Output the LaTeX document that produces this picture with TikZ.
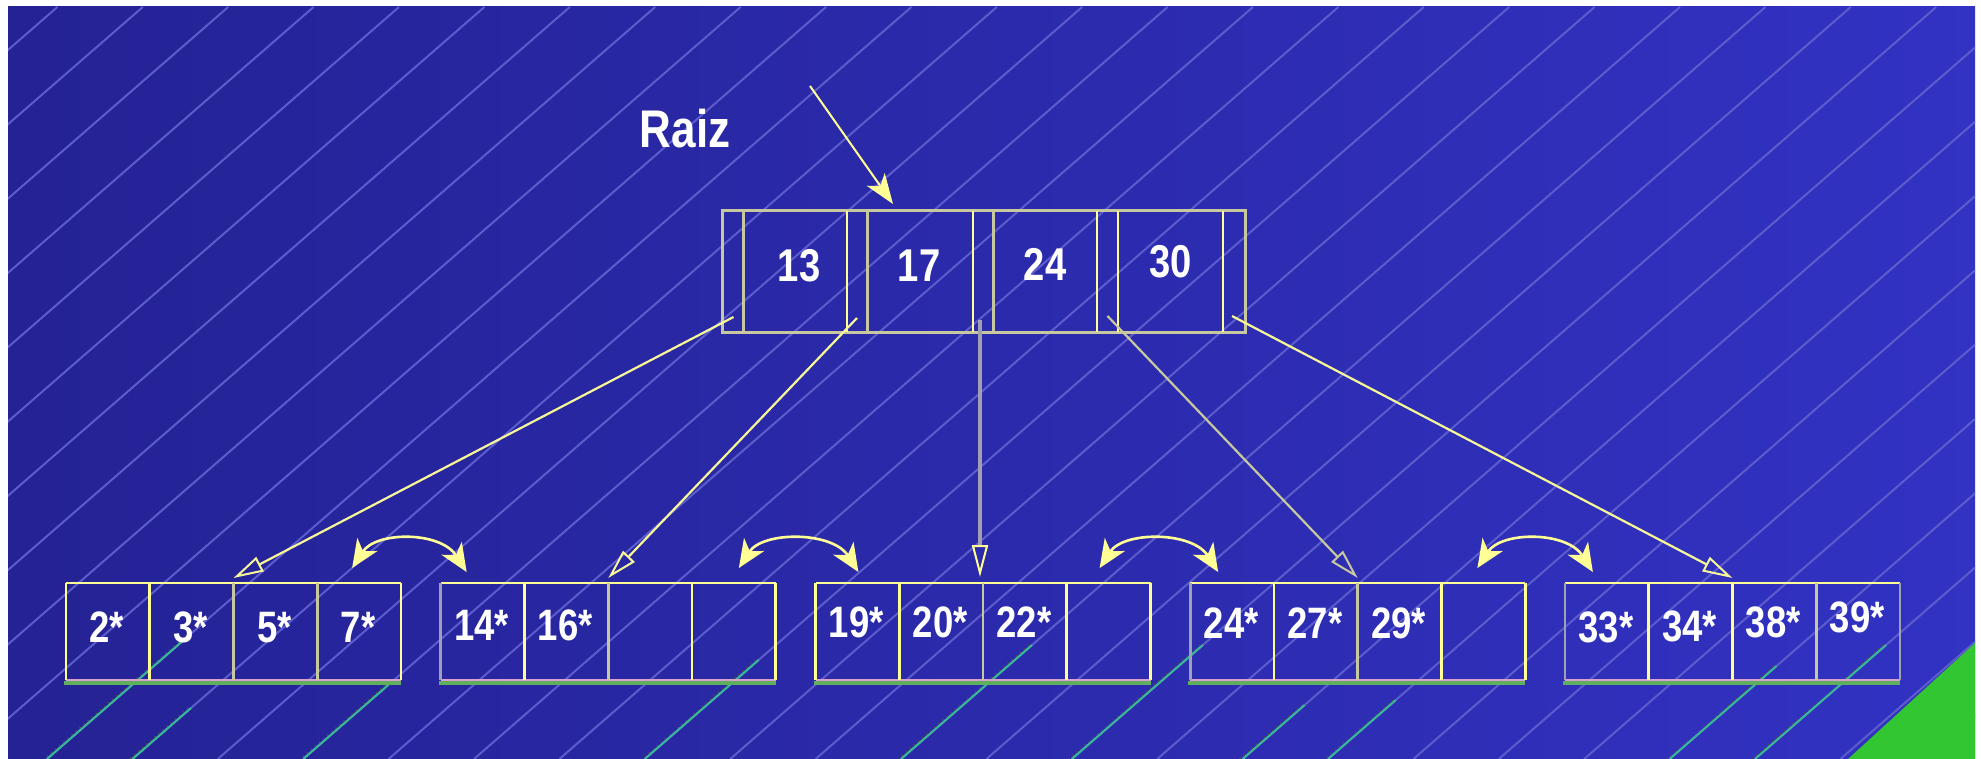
\documentclass[tikz,border=0pt]{standalone}
\usepackage{fontspec}
\newfontfamily\keyfont[FakeStretch=0.83]{Liberation Sans}
\usetikzlibrary{arrows.meta,calc}
\definecolor{bgL}{RGB}{36,34,148}
\definecolor{bgR}{RGB}{50,50,195}
\definecolor{hatch}{RGB}{92,92,205}
\definecolor{ylw}{RGB}{255,255,150}
\definecolor{beige}{RGB}{200,200,160}
\definecolor{greyarrow}{RGB}{160,160,180}
\definecolor{pinkline}{RGB}{215,160,205}
\definecolor{greenline}{RGB}{95,175,95}
\definecolor{tealline}{RGB}{55,185,150}
\definecolor{grass}{RGB}{50,198,50}
\newcommand\mkcell[5]{\node[inner sep=0pt,outer sep=0pt,minimum width={(#3-#2)*0.5pt},minimum height={(#5-#4)*0.5pt}] (#1) at ({(#2+#3)/2},{(#4+#5)/2}) {};}
\tikzset{
  keytext/.style={text=white,inner sep=0pt,anchor=base,font=\keyfont\bfseries\fontsize{22}{22}\selectfont},
  roottext/.style={text=white,inner sep=0pt,anchor=base,font=\keyfont\bfseries\fontsize{23}{23}\selectfont},
  rootedge/.style={draw=beige,line width=1.5pt},
  rootedgeY/.style={draw=ylw,line width=1.2pt},
  leafY/.style={draw=ylw,line width=1.3pt},
  leafB/.style={draw=beige,line width=1.3pt},
  leafG/.style={draw=greyarrow,line width=1.3pt},
  ptr/.style={draw=ylw!85!beige,line width=1.1pt,-{Triangle[open,length=15pt,width=8pt,line width=1pt]}},
  ptrgrey/.style={draw=beige,line width=1.1pt,-{Triangle[open,length=15pt,width=8pt,line width=1pt]}},
  sibling/.style={draw=ylw,line width=1.3pt,{Stealth[length=14pt,width=12pt,inset=4pt]}-{Stealth[length=14pt,width=12pt,inset=4pt]}},
  rootptr/.style={draw=ylw,line width=1pt,-{Stealth[length=15pt,width=11pt,inset=4pt]}},
  teal/.style={draw=tealline,line width=1pt}
}
\begin{document}
\begin{tikzpicture}[x=0.5pt,y=-0.5pt]
\useasboundingbox (0,0) rectangle (1981,759);
\fill[white] (0,0) rectangle (1981,759);
\shade[left color=bgL,right color=bgR] (8,7) rectangle (1975,759);
\begin{scope}
  \clip (8,7) rectangle (1975,759);
  \foreach \k in {-11,...,23} {
    \draw[hatch,line width=1pt] ({47+85.4*\k},759) -- ++(864.4,-752);
  }
  % coloured stretches of the hatch below the leaves
  \foreach \k/\ys in {0/635,1/708,3/685,7/660,10/645,12/645,14/705,15/700,19/666,20/645} {
    \draw[black!70,line width=0.7pt,dotted] ({47+85.4*\k+(759-\ys)/0.87-3},\ys) -- ({47+85.4*\k-3},759);
    \draw[teal] ({47+85.4*\k+(759-\ys)/0.87},\ys) -- ({47+85.4*\k},759);
  }
  \fill[grass] (1848,759) -- (1975,759) -- (1975,643) -- cycle;
\end{scope}

% ---------- root node ----------
\mkcell{rp1}{722}{743}{211}{332}
\mkcell{rk1}{743}{847}{211}{332}
\mkcell{rp2}{847}{867}{211}{332}
\mkcell{rk2}{867}{973}{211}{332}
\mkcell{rp3}{973}{993}{211}{332}
\mkcell{rk3}{993}{1097}{211}{332}
\mkcell{rp4}{1097}{1118}{211}{332}
\mkcell{rk4}{1118}{1223}{211}{332}
\mkcell{rp5}{1223}{1245}{211}{332}
\draw[rootedge] (rp1.north west) rectangle (rp5.south east);
\draw[rootedge] (rk1.north west) -- (rk1.south west);
\draw[rootedge] (rk2.north west) -- (rk2.south west);
\draw[rootedge] (rk3.north west) -- (rk3.south west);
\draw[rootedgeY] (rp2.north west) -- (rp2.south west);
\draw[rootedgeY] (rp3.north west) -- (rp3.south west);
\draw[rootedgeY] (rp4.north west) -- (rp4.south west);
\draw[rootedgeY] (rk4.north west) -- (rk4.south west);
\draw[rootedgeY] (rp5.north west) -- (rp5.south west);
\node[roottext] (t13) at ($(rk1.south)+(4,-50)$) {13};
\node[roottext] (t17) at ($(rk2.south)+(-1,-50)$) {17};
\node[roottext] (t24) at ($(rk3.south)+(0,-51)$) {24};
\node[roottext] (t30) at ($(rk4.south)+(0,-54)$) {30};

% ---------- leaves ----------
\foreach \i in {1,...,5} {
  \foreach \j in {1,...,4} {
    \pgfmathsetmacro\xa{66+374.75*(\i-1)+83.75*(\j-1)}
    \pgfmathsetmacro\xb{\xa+83.75}
    \mkcell{l\i-\j}{\xa}{\xb}{583}{680}
  }
}
\foreach \i in {1,...,5} {
  \draw[leafY] (l\i-1.north west) -- (l\i-4.north east);
  \draw[draw=greenline,line width=1.6pt] ($(l\i-1.south west)+(-2,3)$) -- ($(l\i-4.south east)+(0,3)$);
  \draw[draw=pinkline,line width=1.1pt] (l\i-1.south west) -- (l\i-4.south east);
}
% vertical separators
\foreach \n/\s in {l1-1.north west/leafY,l1-2.north west/leafY,l1-3.north west/leafB,l1-4.north west/leafB,l1-4.north east/leafY,
                  l2-1.north west/leafG,l2-2.north west/leafY,l2-3.north west/leafB,l2-4.north west/leafY,l2-4.north east/leafY,
                  l3-1.north west/leafY,l3-2.north west/leafY,l3-3.north west/leafB,l3-4.north west/leafY,l3-4.north east/leafY,
                  l4-1.north west/leafG,l4-2.north west/leafY,l4-3.north west/leafB,l4-4.north west/leafY,l4-4.north east/leafY,
                  l5-1.north west/leafG,l5-2.north west/leafY,l5-3.north west/leafY,l5-4.north west/leafB,l5-4.north east/leafG} {
  \draw[\s] (\n) -- ++(0,97);
}
% leaf keys
\foreach \i/\j/\t/\dy in {1/1/2*/38,1/2/3*/38,1/3/5*/38,1/4/7*/38,
                          2/1/14*/40,2/2/16*/40,
                          3/1/19*/43,3/2/20*/43,3/3/22*/43,
                          4/1/24*/42,4/2/27*/42,4/3/29*/42,
                          5/1/33*/38,5/2/34*/39,5/3/38*/43,5/4/39*/48} {
  \node[keytext] at ($(l\i-\j.south)+(-1,-\dy)$) {\t};
}

% ---------- Raiz label and pointer ----------
\node[text=white,inner sep=0pt,anchor=base,font=\keyfont\bfseries\fontsize{26.5}{26.5}\selectfont] (raiz) at (685,148) {Raiz};
\coordinate (rootin) at (810,86);
\draw[rootptr] (rootin) -- ($(rk2.north west)+(26,-7)$);

% ---------- child pointers ----------
\draw[ptr] ($(rp1.south)+(1,-15)$) -- ($(l1-2.north east)+(0,-5)$);
\draw[ptr] ($(rp2.south)+(0,-14)$) -- ($(l2-2.north east)+(0,-5)$);
\draw[draw=greyarrow,line width=2pt,-{Triangle[open,length=16pt,width=8pt,line width=1pt,color=ylw]}] ($(rp3.south)+(-3,-12)$) -- ($(l3-2.north east)+(-3,-6)$);
\draw[ptrgrey] ($(rp4.south)+(0,-16)$) -- ($(l4-2.north east)+(0,-5)$);
\draw[ptr] ($(rp5.south)+(-2,-16)$) -- ($(l5-2.north east)+(0,-5)$);

% ---------- sibling links ----------
\coordinate (s1a) at ($(l1-4.north)+(-7,-15)$);
\coordinate (s1b) at ($(l2-1.north)+(-16,-11)$);
\coordinate (s2a) at ($(l2-4.north)+(5,-15)$);
\coordinate (s2b) at ($(l3-1.north)+(1,-11)$);
\coordinate (s3a) at ($(l3-4.north)+(-9,-15)$);
\coordinate (s3b) at ($(l4-1.north)+(-14,-11)$);
\coordinate (s4a) at ($(l4-4.north)+(-6,-15)$);
\coordinate (s4b) at ($(l5-1.north)+(-14,-11)$);
\foreach \a/\b in {s1a/s1b,s2a/s2b,s3a/s3b,s4a/s4b} {
  \draw[sibling] (\a) .. controls ($(\a)+(24,-37)$) and ($(\b)+(-26,-41)$) .. (\b);
}
\end{tikzpicture}
\end{document}
